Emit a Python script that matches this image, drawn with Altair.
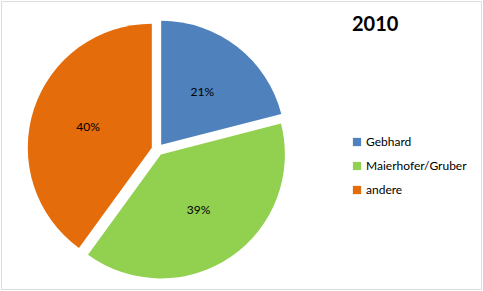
import altair as alt
import pandas as pd

# ---- data ----
categories = ["Gebhard", "Maierhofer/Gruber", "andere"]
shares = [21, 39, 40]
colors = ["#4F81BD", "#92D050", "#E46C0A"]
title_text = "2010"

# ---- layout (pixels, inside the framed view) ----
CX, CY = 156.5, 148.5
R = 124
EXPLODE = 6
LABEL_R = 67
FONT = "Lato"

df = pd.DataFrame({"cat": categories, "value": shares, "idx": list(range(len(categories)))})

base = (
    alt.Chart(df)
    .transform_joinaggregate(total="sum(value)")
    .transform_window(cum="sum(value)", sort=[alt.SortField("idx")], frame=[None, 0])
    .transform_calculate(
        start="2*PI*(datum.cum-datum.value)/datum.total",
        end="2*PI*datum.cum/datum.total",
    )
    .transform_calculate(mid="(datum.start+datum.end)/2")
    .transform_calculate(
        cx=f"{CX}+{EXPLODE}*sin(datum.mid)",
        cy=f"{CY}-{EXPLODE}*cos(datum.mid)",
        label="format(datum.value/datum.total, '.0%')",
    )
    .transform_calculate(
        tx=f"datum.cx+{LABEL_R}*sin(datum.mid)",
        ty=f"datum.cy-{LABEL_R}*cos(datum.mid)",
    )
)

arcs = base.mark_arc(outerRadius=R).encode(
    theta=alt.Theta("start:Q", scale=None),
    theta2="end:Q",
    x=alt.X("cx:Q", scale=None),
    y=alt.Y("cy:Q", scale=None),
    color=alt.Color(
        "cat:N",
        scale=alt.Scale(domain=categories, range=colors),
        sort=categories,
        legend=alt.Legend(
            title=None,
            orient="none",
            legendX=350,
            legendY=135,
            symbolType="square",
            symbolSize=68,
            symbolStrokeWidth=0,
            labelFont=FONT,
            labelFontSize=12,
            labelColor="#000000",
            labelOffset=3,
            rowPadding=12,
            padding=0,
        ),
    ),
)

labels = base.mark_text(font=FONT, fontSize=12, color="#000000").encode(
    x=alt.X("tx:Q", scale=None),
    y=alt.Y("ty:Q", scale=None),
    text="label:N",
)

chart = (
    alt.layer(arcs, labels)
    .properties(
        width=480,
        height=288,
        padding={"left": 1, "top": 1, "right": 2, "bottom": 2},
        autosize=alt.AutoSizeParams(type="none"),
        title=alt.TitleParams(
            title_text,
            anchor="start",
            frame="group",
            dx=351,
            dy=38,
            font=FONT,
            fontSize=20,
            fontWeight="bold",
            color="#000000",
        ),
    )
    .configure_view(stroke="#888888", strokeWidth=1)
    .configure(background="white")
)

chart.save("out.html", embed_options={"renderer": "svg", "actions": False})
